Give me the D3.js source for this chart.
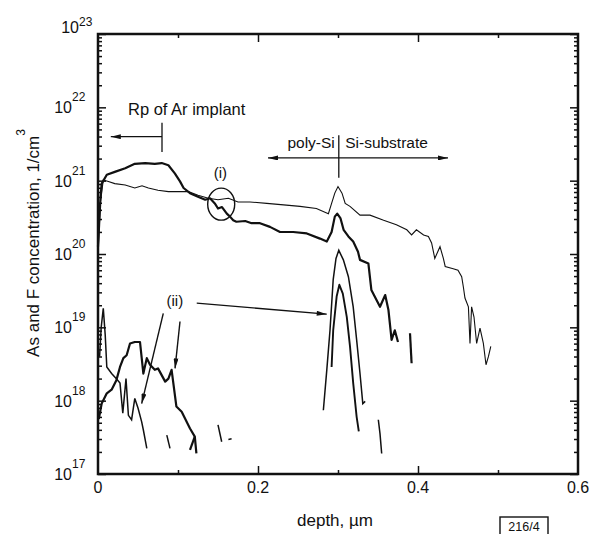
<!DOCTYPE html>
<html>
<head>
  <meta http-equiv="Content-Type" content="text/html;charset=utf-8">
  <title>As and F depth profiles</title>
  <script src="https://d3js.org/d3.v7.min.js"></script>
  <style>
    html,
    body {
      margin: 0;
      padding: 0;
      background: #fff;
    }

    svg {
      display: block;
      font-family: "Liberation Sans", Arial, sans-serif;
      fill: #111;
    }

    .thin {
      fill: none;
      stroke: #111;
      stroke-width: 1.1px;
    }

    .bold {
      fill: none;
      stroke: #111;
      stroke-width: 2.2px;
      stroke-linejoin: round;
    }

    .tick line {
      stroke: #111;
      stroke-width: 1.5px;
    }
  </style>
</head>

<body>
  <script type="text/javascript">

    // [depth in um, log10 of concentration in 1/cm3]
    var asThin = [[0.000, 20.0], [0.003, 20.7], [0.0066, 21.01], [0.013, 20.99], [0.021, 20.96], [0.034, 20.94],
      [0.046, 20.90], [0.055, 20.93], [0.063, 20.90], [0.075, 20.87], [0.088, 20.85], [0.100, 20.85],
      [0.113, 20.85], [0.125, 20.80], [0.138, 20.76], [0.150, 20.74], [0.163, 20.76], [0.175, 20.71],
      [0.190, 20.71], [0.211, 20.69], [0.232, 20.67], [0.2525, 20.65], [0.273, 20.62], [0.288, 20.55],
      [0.292, 20.69], [0.296, 20.83], [0.300, 20.92], [0.305, 20.83], [0.309, 20.69], [0.315, 20.65],
      [0.3275, 20.53], [0.340, 20.53], [0.357, 20.46], [0.373, 20.40], [0.386, 20.33], [0.392, 20.26],
      [0.398, 20.33], [0.407, 20.26], [0.413, 20.24], [0.417, 20.15], [0.421, 19.94], [0.4275, 20.10],
      [0.4317, 19.94], [0.434, 19.83], [0.444, 19.80], [0.450, 19.78], [0.4546, 19.69], [0.4567, 19.55],
      [0.4587, 19.40], [0.463, 19.28], [0.465, 18.78], [0.467, 19.28], [0.470, 19.14], [0.4733, 18.78],
      [0.4775, 18.99], [0.4817, 18.78], [0.485, 18.49], [0.488, 18.60], [0.491, 18.74]];

    var asBold = [[0.000, 20.1], [0.003, 20.75], [0.0046, 20.96], [0.011, 21.08], [0.021, 21.12], [0.034, 21.17],
      [0.046, 21.23], [0.059, 21.24], [0.071, 21.23], [0.0796, 21.24], [0.088, 21.21], [0.096, 21.10],
      [0.1025, 20.99], [0.107, 20.90], [0.115, 20.83], [0.125, 20.78], [0.134, 20.74], [0.140, 20.76],
      [0.146, 20.69], [0.150, 20.62], [0.155, 20.64], [0.161, 20.55], [0.165, 20.51], [0.169, 20.46],
      [0.173, 20.44], [0.184, 20.45], [0.192, 20.42], [0.2025, 20.42], [0.215, 20.37], [0.2275, 20.30],
      [0.244, 20.30], [0.261, 20.28], [0.2775, 20.21], [0.286, 20.17], [0.292, 20.30], [0.296, 20.51],
      [0.299, 20.55], [0.303, 20.49], [0.307, 20.33], [0.313, 20.24], [0.319, 20.17], [0.325, 20.03],
      [0.3275, 19.92], [0.338, 19.87], [0.3417, 19.51], [0.3525, 19.28], [0.359, 19.44], [0.363, 19.24],
      [0.367, 18.83], [0.371, 18.96], [0.375, 18.80]];

    var peakOuter = [[0.2817, 17.87], [0.286, 18.42], [0.290, 18.96], [0.294, 19.65], [0.2975, 19.94],
      [0.301, 20.05], [0.3067, 19.92], [0.313, 19.69], [0.319, 19.28], [0.3233, 18.83], [0.3275, 18.37],
      [0.331, 17.96], [0.334, 17.99]];

    var peakInner = [[0.292, 18.46], [0.294, 18.96], [0.2983, 19.42], [0.3017, 19.58], [0.306, 19.46],
      [0.311, 19.14], [0.315, 18.74], [0.319, 18.24], [0.3233, 17.78], [0.326, 17.58]];

    var fBold = [[0.001, 17.75], [0.0046, 17.96], [0.011, 18.10], [0.017, 18.15], [0.023, 18.28], [0.0275, 18.46],
      [0.0317, 18.58], [0.0358, 18.62], [0.040, 18.78], [0.046, 18.80], [0.0525, 18.80], [0.0567, 18.37],
      [0.061, 18.58], [0.065, 18.49], [0.071, 18.42], [0.075, 18.44], [0.084, 18.26], [0.088, 18.30],
      [0.092, 18.42], [0.098, 17.92], [0.1046, 17.85], [0.115, 17.62], [0.121, 17.51], [0.123, 17.28]];

    var fThin = [[0.002, 18.6], [0.004, 19.0], [0.0066, 19.26], [0.009, 18.9], [0.011, 18.46], [0.017, 18.37],
      [0.023, 18.30], [0.0275, 18.24], [0.031, 17.83], [0.035, 18.30], [0.038, 17.80], [0.042, 17.74],
      [0.046, 18.03], [0.050, 17.90], [0.0546, 17.71], [0.0567, 17.60], [0.061, 17.35]];

    // short broken pieces of the traces
    var boldPieces = [
      [[0.390, 18.92], [0.392, 18.51]],
      [[0.115, 17.33], [0.121, 17.51]]
    ];
    var thinPieces = [
      [[0.3504, 17.74], [0.3525, 17.55], [0.3546, 17.28]],
      [[0.086, 17.53], [0.090, 17.35]],
      [[0.150, 17.67], [0.1546, 17.44]],
      [[0.163, 17.47], [0.167, 17.48]]
    ];

    var yExponents = [17, 18, 19, 20, 21, 22, 23];
    var xLabels = [0, 0.2, 0.4, 0.6];
    var xMajor = [0.2, 0.4];
    var xMinor = [0.1, 0.3, 0.5];

    var margin = { top: 34, right: 12, bottom: 60, left: 98 };
    var width = 590, height = 534;
    var w = width - margin.left - margin.right;
    var h = height - margin.top - margin.bottom;

    var x = d3.scaleLinear().domain([0, 0.6]).range([0, w]);
    var y = d3.scaleLog().domain([1e17, 1e23]).range([h, 0]);

    var lineFunction = d3.line()
      .x(function (d) { return x(d[0]); })
      .y(function (d) { return y(Math.pow(10, d[1])); });

    function py(e) { return y(Math.pow(10, e)); }

    var svg = d3.select("body").append("svg")
      .attr("width", width)
      .attr("height", height);

    var defs = svg.append("defs");
    defs.append("marker")
      .attr("id", "arr")
      .attr("viewBox", "0 0 12 6")
      .attr("refX", 12).attr("refY", 3)
      .attr("markerWidth", 12).attr("markerHeight", 5)
      .attr("markerUnits", "userSpaceOnUse")
      .attr("orient", "auto-start-reverse")
      .append("path").attr("d", "M0,0L12,3L0,6Z").style("fill", "#111");

    var g = svg.append("g").attr("transform", "translate(" + margin.left + "," + margin.top + ")");

    // ticks
    var yMajor = yExponents.map(function (e) { return Math.pow(10, e); });
    var yMinor = [];
    yExponents.slice(0, -1).forEach(function (e) {
      for (var m = 2; m <= 9; m++) yMinor.push(m * Math.pow(10, e));
    });

    function axis(gen, vals, size, tr) {
      var a = g.append("g").attr("transform", tr || null)
        .call(gen.tickValues(vals).tickSize(-size).tickFormat(""));
      a.select(".domain").remove();
    }
    axis(d3.axisLeft(y), yMinor, 4);
    axis(d3.axisLeft(y), yMajor, 8);
    axis(d3.axisRight(y), yMinor, 4, "translate(" + w + ",0)");
    axis(d3.axisRight(y), yMajor, 8, "translate(" + w + ",0)");
    axis(d3.axisBottom(x), xMinor, 4, "translate(0," + h + ")");
    axis(d3.axisBottom(x), xMajor, 8, "translate(0," + h + ")");
    axis(d3.axisTop(x), xMinor, 4);
    axis(d3.axisTop(x), xMajor, 8);

    g.append("rect")
      .attr("width", w).attr("height", h)
      .style("fill", "none").style("stroke", "#111").style("stroke-width", 2.5);

    // y tick labels 10^n
    yExponents.forEach(function (e) {
      var top = e === 23;
      var yy = py(e);
      var xr = top ? -19 : -26;
      g.append("text")
        .attr("x", xr).attr("y", top ? yy - 1 : yy + 6)
        .attr("text-anchor", "end")
        .style("font-size", "16px")
        .text("10");
      g.append("text")
        .attr("x", xr).attr("y", top ? yy - 8 : yy - 6)
        .style("font-size", "12px")
        .text(e);
    });

    // x tick labels
    xLabels.forEach(function (v) {
      g.append("text")
        .attr("x", x(v)).attr("y", h + 19)
        .attr("text-anchor", "middle")
        .style("font-size", "16px")
        .text(v === 0 ? "0" : d3.format(".1f")(v));
    });

    // axis titles
    g.append("text")
      .attr("x", x(0.3) - 3).attr("y", h + 52)
      .attr("text-anchor", "middle")
      .style("font-size", "17px")
      .text("depth, \u00b5m");

    var yt = g.append("text")
      .attr("transform", "translate(-59," + (h / 2 - 11) + ") rotate(-90)")
      .attr("text-anchor", "middle")
      .style("font-size", "17px")
      .text("As and F concentration, 1/cm");
    yt.append("tspan").attr("dy", -14).style("font-size", "12px").text("3");

    // profiles
    var plot = g.append("g");
    plot.append("path").attr("class", "thin").attr("d", lineFunction(asThin));
    plot.append("path").attr("class", "bold").attr("d", lineFunction(asBold));
    plot.append("path").attr("class", "thin").style("stroke-width", "1.5px").attr("d", lineFunction(peakOuter));
    plot.append("path").attr("class", "bold").style("stroke-width", "1.9px").attr("d", lineFunction(peakInner));
    plot.append("path").attr("class", "bold").attr("d", lineFunction(fBold));
    plot.append("path").attr("class", "thin").style("stroke-width", "1.5px").attr("d", lineFunction(fThin));
    boldPieces.forEach(function (p) {
      plot.append("path").attr("class", "bold").attr("d", lineFunction(p));
    });
    thinPieces.forEach(function (p) {
      plot.append("path").attr("class", "thin").style("stroke-width", "1.5px").attr("d", lineFunction(p));
    });

    // annotations
    function seg(x1, e1, x2, e2, sw, start, end) {
      g.append("line")
        .attr("x1", x(x1)).attr("y1", py(e1))
        .attr("x2", x(x2)).attr("y2", py(e2))
        .style("stroke", "#111").style("stroke-width", sw)
        .attr("marker-start", start ? "url(#arr)" : null)
        .attr("marker-end", end ? "url(#arr)" : null);
    }

    g.append("text").attr("x", x(0.0375)).attr("y", py(21.9))
      .style("font-size", "16.5px").text("Rp of Ar implant");
    seg(0.08, 21.79, 0.08, 21.39, 1.3);
    seg(0.08, 21.6, 0.016, 21.6, 1.3, false, true);

    g.append("text").attr("x", x(0.296)).attr("y", py(21.45))
      .attr("text-anchor", "end").style("font-size", "15.5px").text("poly-Si");
    g.append("text").attr("x", x(0.309)).attr("y", py(21.45))
      .style("font-size", "15.5px").text("Si-substrate");
    seg(0.301, 21.62, 0.301, 21.04, 1.3);
    seg(0.2125, 21.31, 0.4375, 21.31, 1.3, true, true);

    g.append("text").attr("x", x(0.153)).attr("y", py(21.04))
      .attr("text-anchor", "middle").style("font-size", "15px").text("(i)");
    g.append("ellipse")
      .attr("cx", x(0.154)).attr("cy", py(20.68))
      .attr("rx", 13.5).attr("ry", 16)
      .style("fill", "none").style("stroke", "#111").style("stroke-width", 1.4);

    g.append("text").attr("x", x(0.096)).attr("y", py(19.29))
      .attr("text-anchor", "middle").style("font-size", "15px").text("(ii)");
    seg(0.0816, 19.19, 0.0546, 17.96, 1.4, false, true);
    seg(0.1025, 19.08, 0.0963, 18.44, 1.4, false, true);
    seg(0.1234, 19.33, 0.2859, 19.18, 1.3, false, true);

    // figure number box
    svg.append("rect")
      .attr("x", 500).attr("y", 517).attr("width", 48).attr("height", 24)
      .style("fill", "none").style("stroke", "#111").style("stroke-width", 1.4);
    svg.append("text")
      .attr("x", 524).attr("y", 531)
      .attr("text-anchor", "middle")
      .style("font-size", "12.5px")
      .text("216/4");

  </script>
</body>

</html>
